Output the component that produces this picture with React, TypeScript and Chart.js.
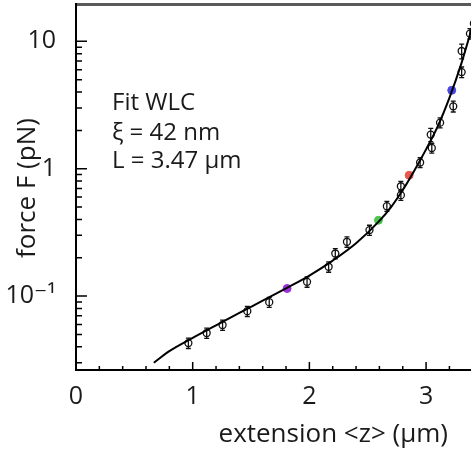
import React, { useEffect, useRef } from 'react';
import { Chart, registerables } from 'chart.js';

Chart.register(...registerables);

// Measured data (black open circles with error bars)
const pointX = [0.963, 1.12, 1.256, 1.468, 1.656, 1.98, 2.165, 2.222, 2.322, 2.515, 2.664, 2.784, 2.784, 2.949, 3.049, 3.04, 3.12, 3.233, 3.305, 3.305, 3.376, 3.41];
const pointF = [0.0428, 0.0513, 0.0593, 0.0762, 0.0897, 0.1294, 0.17, 0.216, 0.267, 0.33, 0.508, 0.62, 0.729, 1.12, 1.456, 1.854, 2.3, 3.09, 5.74, 8.4, 11.5, 13.8];
const pointErr = [0.004, 0.0047, 0.0055, 0.007, 0.008, 0.012, 0.016, 0.02, 0.025, 0.03, 0.046, 0.056, 0.066, 0.1, 0.13, 0.22, 0.21, 0.3, 0.55, 1.1, 1.1, 1.3];

// Highlighted points
const markedX = [1.809, 2.592, 2.855, 3.22];
const markedF = [0.1148, 0.394, 0.889, 4.13];
const markedColors = ['#9b30d9', '#4fc24f', '#e8574f', '#4848e6'];

// WLC fit curve
const fitX = [0.667, 0.8, 1.0, 1.2, 1.4, 1.6, 1.8, 2.0, 2.2, 2.4, 2.6, 2.7, 2.8, 2.9, 3.0, 3.1, 3.2, 3.3, 3.4];
const fitF = [0.03, 0.037, 0.047, 0.059, 0.074, 0.092, 0.115, 0.145, 0.19, 0.26, 0.39, 0.5, 0.68, 0.97, 1.42, 2.15, 3.6, 6.6, 13.5];

// Axes
const xTickValues = [0, 1, 2, 3];
const xTickLabels = ['0', '1', '2', '3'];
const xMinorTicks = [0.2, 0.4, 0.6, 0.8, 1.2, 1.4, 1.6, 1.8, 2.2, 2.4, 2.6, 2.8, 3.2];
const yTickValues = [0.1, 1, 10];
const yTickLabels = ['10\u207B\u00B9', '1', '10'];
const yMinorTicks = [0.03, 0.04, 0.05, 0.06, 0.07, 0.08, 0.09, 0.2, 0.3, 0.4, 0.5, 0.6, 0.7, 0.8, 0.9, 2, 3, 4, 5, 6, 7, 8, 9];

const annotationLines = ['Fit WLC', '\u03BE = 42 nm', 'L = 3.47 \u00B5m'];
const xTitle = 'extension <z> (\u00B5m)';
const yTitle = 'force F (pN)';

const FONT = "'Open Sans', 'DejaVu Sans', sans-serif";
const INK = '#1a1a1a';

const zeroPad = (s: any) => {
  s.paddingTop = 0;
  s.paddingBottom = 0;
  s.paddingLeft = 0;
  s.paddingRight = 0;
};

const decorPlugin = {
  id: 'decor',
  beforeDatasetsDraw(chart: any) {
    const { ctx, chartArea: a, scales } = chart;
    const xs = scales.x, ys = scales.y;
    ctx.save();
    ctx.beginPath();
    ctx.rect(a.left, a.top, a.right - a.left, a.bottom - a.top);
    ctx.clip();
    ctx.strokeStyle = '#111';
    ctx.lineWidth = 1.3;
    pointX.forEach((x, i) => {
      const px = xs.getPixelForValue(x);
      const yTop = ys.getPixelForValue(pointF[i] + pointErr[i]);
      const yBot = ys.getPixelForValue(pointF[i] - pointErr[i]);
      ctx.beginPath();
      ctx.moveTo(px, yTop);
      ctx.lineTo(px, yBot);
      ctx.moveTo(px - 2.5, yTop);
      ctx.lineTo(px + 2.5, yTop);
      ctx.moveTo(px - 2.5, yBot);
      ctx.lineTo(px + 2.5, yBot);
      ctx.stroke();
    });
    ctx.restore();
  },
  afterDraw(chart: any) {
    const { ctx, chartArea: a, scales } = chart;
    const xs = scales.x, ys = scales.y;
    ctx.save();
    // top frame (grey)
    ctx.fillStyle = '#5a5a5a';
    ctx.fillRect(a.left, a.top - 2, a.right - a.left, 3);
    // axes
    ctx.strokeStyle = '#000';
    ctx.lineWidth = 2;
    ctx.beginPath();
    ctx.moveTo(a.left, a.top - 2);
    ctx.lineTo(a.left, a.bottom);
    ctx.lineTo(a.right, a.bottom);
    ctx.stroke();
    // ticks
    ctx.lineWidth = 1.5;
    ctx.beginPath();
    xTickValues.forEach((v) => {
      const p = xs.getPixelForValue(v);
      ctx.moveTo(p, a.bottom);
      ctx.lineTo(p, a.bottom - 8);
    });
    xMinorTicks.forEach((v) => {
      const p = xs.getPixelForValue(v);
      ctx.moveTo(p, a.bottom);
      ctx.lineTo(p, a.bottom - 4);
    });
    yTickValues.forEach((v) => {
      const p = ys.getPixelForValue(v);
      ctx.moveTo(a.left, p);
      ctx.lineTo(a.left + 11, p);
    });
    yMinorTicks.forEach((v) => {
      const p = ys.getPixelForValue(v);
      ctx.moveTo(a.left, p);
      ctx.lineTo(a.left + 6, p);
    });
    ctx.stroke();
    // annotation
    ctx.fillStyle = INK;
    ctx.font = `24px ${FONT}`;
    ctx.textAlign = 'left';
    ctx.textBaseline = 'alphabetic';
    const base = [110, 140, 168];
    annotationLines.forEach((t, i) => ctx.fillText(t, a.left + 36, base[i]));
    // axis titles
    ctx.font = `26px ${FONT}`;
    ctx.textAlign = 'right';
    ctx.fillText(xTitle, 448, 442);
    ctx.save();
    ctx.translate(35, 188);
    ctx.rotate(-Math.PI / 2);
    ctx.textAlign = 'center';
    ctx.fillText(yTitle, 0, 0);
    ctx.restore();
    ctx.restore();
  },
};

export default function App() {
  const ref = useRef<HTMLCanvasElement>(null);
  useEffect(() => {
    if (!ref.current) return;
    const chart = new Chart(ref.current, {
      type: 'scatter',
      data: {
        datasets: [
          {
            data: fitX.map((x, i) => ({ x, y: fitF[i] })),
            showLine: true,
            borderColor: '#000',
            borderWidth: 2,
            pointRadius: 0,
            cubicInterpolationMode: 'monotone',
            fill: false,
          },
          {
            data: pointX.map((x, i) => ({ x, y: pointF[i] })),
            pointStyle: 'circle',
            pointRadius: 3.5,
            borderColor: '#111',
            borderWidth: 1.3,
            backgroundColor: 'rgba(0,0,0,0)',
          },
          {
            data: markedX.map((x, i) => ({ x, y: markedF[i] })),
            pointStyle: 'circle',
            pointRadius: 4,
            backgroundColor: markedColors,
            borderColor: markedColors,
            borderWidth: 1,
          },
        ],
      } as any,
      options: {
        animation: false,
        responsive: false,
        devicePixelRatio: 1,
        layout: { autoPadding: false, padding: { top: 5, right: 0, left: 0, bottom: 0 } },
        plugins: { legend: { display: false }, tooltip: { enabled: false } },
        scales: {
          x: {
            type: 'linear',
            min: 0,
            max: 3.385,
            grid: { display: false },
            border: { display: false },
            afterFit: (s: any) => { s.height = 80; zeroPad(s); },
            afterBuildTicks: (s: any) => { s.ticks = xTickValues.map((v) => ({ value: v })); },
            ticks: {
              autoSkip: false,
              maxRotation: 0,
              padding: 4,
              color: INK,
              font: { family: FONT, size: 25 },
              callback: (_v: any, i: number) => xTickLabels[i],
            },
          },
          y: {
            type: 'logarithmic',
            min: 0.0263,
            max: 19.3,
            grid: { display: false },
            border: { display: false },
            afterFit: (s: any) => { s.width = 76; zeroPad(s); },
            afterBuildTicks: (s: any) => { s.ticks = yTickValues.map((v) => ({ value: v })); },
            ticks: {
              autoSkip: false,
              padding: 12,
              color: INK,
              font: { family: FONT, size: 25 },
              callback: (_v: any, i: number) => yTickLabels[i],
            },
          },
        },
      } as any,
      plugins: [decorPlugin],
    });
    return () => chart.destroy();
  }, []);
  return (
    <div style={{ position: 'absolute', left: 0, top: 0, width: 471, height: 450, background: '#fff' }}>
      <canvas ref={ref} width={471} height={450} style={{ display: 'block' }} />
    </div>
  );
}
